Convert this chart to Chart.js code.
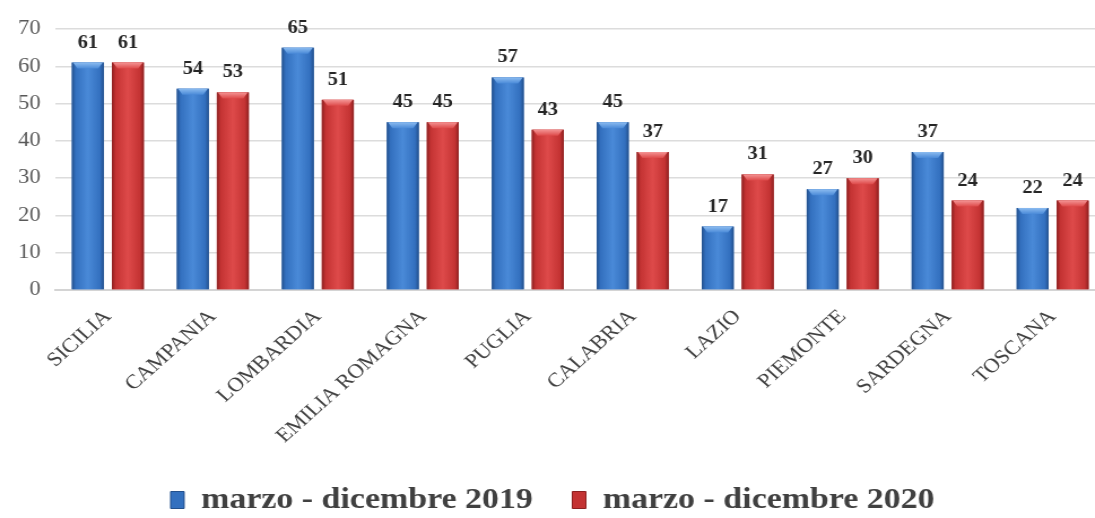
<!DOCTYPE html>
<html><head><meta charset="utf-8">
<script src="https://cdn.jsdelivr.net/npm/chart.js@4/dist/chart.umd.min.js"></script>
<style>
html,body{margin:0;padding:0;overflow:hidden;background:#fff;width:1095px;height:518px}
#wrap{width:980px;height:518px;transform:scaleX(1.13);transform-origin:0 0}
</style>
</head><body><div id="wrap"><canvas id="c" width="980" height="518"></canvas></div>
<script>
const categories = ['SICILIA','CAMPANIA','LOMBARDIA','EMILIA ROMAGNA','PUGLIA','CALABRIA','LAZIO','PIEMONTE','SARDEGNA','TOSCANA'];
const series2019 = [61,54,65,45,57,45,17,27,37,22];
const series2020 = [61,53,51,45,43,37,31,30,24,24];
const seriesNames = ['marzo - dicembre 2019','marzo - dicembre 2020'];
const yMin = 0, yMax = 70, yStep = 10;

const palettes = [
  {base:'#3470be', dark:'#23508c', mid:'#3370bf', light:'#4a8ad8', bevel:'#8cbcf0'},
  {base:'#c83434', dark:'#8c2020', mid:'#c43333', light:'#de4a4a', bevel:'#f49494'}
];

const barShade = {
  id:'barShade',
  afterDatasetsDraw(chart){
    const ctx = chart.ctx;
    chart.data.datasets.forEach((ds, di) => {
      const meta = chart.getDatasetMeta(di);
      const p = palettes[di];
      meta.data.forEach(el => {
        const {x, y, base, width} = el.getProps(['x','y','base','width'], true);
        const l = x - width/2, r = x + width/2;
        const g = ctx.createLinearGradient(l, 0, r, 0);
        g.addColorStop(0, p.dark); g.addColorStop(0.12, p.mid);
        g.addColorStop(0.5, p.light); g.addColorStop(0.88, p.mid); g.addColorStop(1, p.dark);
        ctx.save();
        ctx.fillStyle = g;
        ctx.fillRect(l, y, width, base - y);
        const bh = Math.min(6, (base - y) / 2);
        const gb = ctx.createLinearGradient(0, y, 0, y + bh);
        gb.addColorStop(0, p.bevel); gb.addColorStop(1, p.light);
        ctx.fillStyle = gb;
        ctx.beginPath();
        ctx.moveTo(l + 1, y); ctx.lineTo(r - 1, y); ctx.lineTo(r - 5, y + bh); ctx.lineTo(l + 5, y + bh); ctx.closePath();
        ctx.fill();
        ctx.restore();
      });
    });
  }
};

const valueLabels = {
  id:'valueLabels',
  afterDatasetsDraw(chart){
    const ctx = chart.ctx;
    ctx.save();
    ctx.font = 'bold 18px "Liberation Serif", serif';
    ctx.fillStyle = '#262626';
    ctx.textAlign = 'center';
    ctx.textBaseline = 'alphabetic';
    chart.data.datasets.forEach((ds, di) => {
      const meta = chart.getDatasetMeta(di);
      meta.data.forEach((el, i) => {
        const {x, y} = el.getProps(['x','y'], true);
        ctx.fillText(String(ds.data[i]), x, y - 15);
      });
    });
    ctx.restore();
  }
};

new Chart(document.getElementById('c'), {
  type:'bar',
  data:{
    labels: categories,
    datasets:[
      {label: seriesNames[0], data: series2019, backgroundColor: palettes[0].base, borderWidth:0},
      {label: seriesNames[1], data: series2020, backgroundColor: palettes[1].base, borderWidth:0}
    ]
  },
  options:{
    responsive:false,
    animation:false,
    layout:{padding:{top:29, right:2, left:0, bottom:-7}},
    datasets:{bar:{categoryPercentage:0.762, barPercentage:0.8}},
    scales:{
      x:{
        grid:{display:false},
        border:{display:true, color:'#d4d4d4', width:2},
        ticks:{autoSkip:false, minRotation:45, maxRotation:45, color:'#404040', padding:7,
               font:{family:'"Liberation Serif", serif', size:20}},
        afterFit(s){ s.height = 160; }
      },
      y:{
        min:yMin, max:yMax,
        grid:{color:'#dcdcdc', lineWidth:1.5, drawTicks:false},
        border:{display:false},
        ticks:{stepSize:yStep, color:'#595959', padding:13,
               font:{family:'"Liberation Serif", serif', size:20}},
        afterFit(s){ s.width = 49; }
      }
    },
    plugins:{
      legend:{
        position:'bottom',
        labels:{
          boxWidth:12, boxHeight:17, padding:35, color:'#404040',
          font:{family:'"Liberation Serif", serif', size:30, weight:'bold'},
          generateLabels(chart){
            return chart.data.datasets.map((ds, i) => ({
              text: ds.label, fillStyle: palettes[i].mid, strokeStyle: palettes[i].dark,
              lineWidth: 1, hidden: false, datasetIndex: i, fontColor:'#404040'
            }));
          }
        }
      },
      tooltip:{enabled:false}
    }
  },
  plugins:[barShade, valueLabels]
});
</script>
</body></html>
